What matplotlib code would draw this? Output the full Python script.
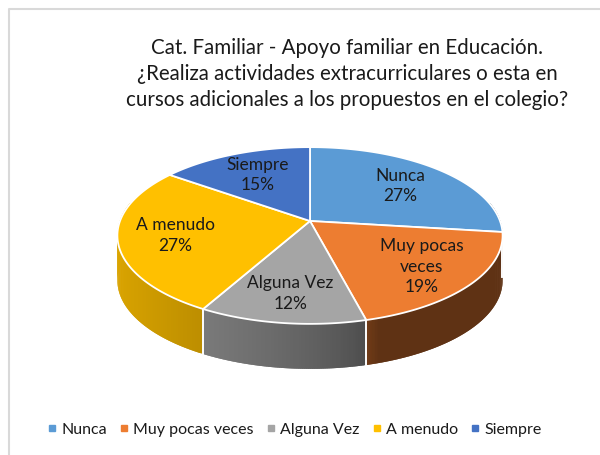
import matplotlib.pyplot as plt
from matplotlib.patches import Polygon
from matplotlib.colors import to_rgb
import numpy as np

# data
title = ('Cat. Familiar - Apoyo familiar en Educación.\n'
         '¿Realiza actividades extracurriculares o esta en\n'
         'cursos adicionales a los propuestos en el colegio?')
categories = ['Nunca', 'Muy pocas veces', 'Alguna Vez', 'A menudo', 'Siempre']
label_text = ['Nunca', 'Muy pocas\nveces', 'Alguna Vez', 'A menudo', 'Siempre']
values = [27, 19, 12, 27, 15]
colors = ['#5b9bd5', '#ed7d31', '#a5a5a5', '#ffc000', '#4472c4']

plt.rcParams['font.family'] = ['Lato', 'DejaVu Sans']

# pie geometry in pixel space (perspective-tilted disc)
cx, cy = 310, 222
rx, ry = 190, 86
k = 0.164
depth = 45


def proj(t, r=1.0):
    s = 1.0 / (1.0 + k * np.sin(t))
    return cx + rx * r * np.cos(t) * s, cy - ry * r * np.sin(t) * s


def side_factor(t):
    v = np.clip((-np.cos(t) + 0.3) / 1.3, 0, 1) ** 0.6
    return 0.4 + 0.46 * v


fig = plt.figure(figsize=(6, 4.56), dpi=100)
ax = fig.add_axes([0, 0, 1, 1])
ax.set_xlim(0, 600)
ax.set_ylim(456, 0)
ax.axis('off')

# chart frame (only top/left visible)
ax.plot([9, 9, 600], [456, 10, 10], color='#d9d9d9', lw=1.5, zorder=1)

total = sum(values)
fracs = np.array(values) / total
bounds = np.pi / 2 - 2 * np.pi * np.concatenate([[0], np.cumsum(fracs)])

# side walls (front half only), shaded in thin overlapping strips
lo, hi = np.radians(-192), np.radians(12)
for i, c in enumerate(colors):
    t0, t1 = bounds[i], bounds[i + 1]
    base = np.array(to_rgb(c))
    for a0, a1 in [(t0, t1), (t0 - 2 * np.pi, t1 - 2 * np.pi)]:
        a_hi, a_lo = min(a0, hi), max(a1, lo)
        if a_hi <= a_lo:
            continue
        ts = np.linspace(a_hi, a_lo, 90)
        for j in range(len(ts) - 1):
            j2 = min(j + 2, len(ts) - 1)
            xa, ya = proj(ts[j])
            xb, yb = proj(ts[j2])
            f = side_factor(0.5 * (ts[j] + ts[j + 1]))
            ax.add_patch(Polygon([(xa, ya - 1), (xb, yb - 1), (xb, yb + depth), (xa, ya + depth)],
                                 closed=True, facecolor=base * f, edgecolor='none',
                                 zorder=2))
        # white seams at slice ends on the wall
        for a in (a0, a1):
            if lo <= a <= hi and np.sin(a) < 0:
                xa, ya = proj(a)
                ax.plot([xa, xa], [ya, ya + depth], color='white', lw=1.2, zorder=3)

# top faces
for i, c in enumerate(colors):
    ts = np.linspace(bounds[i], bounds[i + 1], 80)
    xs, ys = proj(ts)
    pts = [(cx, cy)] + list(zip(xs, ys))
    ax.add_patch(Polygon(pts, closed=True, facecolor=c, edgecolor='white',
                         lw=1.3, joinstyle='round', zorder=4))

# data labels
for i, lab in enumerate(label_text):
    mid = 0.5 * (bounds[i] + bounds[i + 1])
    lx, ly = proj(mid, 0.7)
    ax.text(lx, ly, f'{lab}\n{values[i] / total:.0%}', ha='center', va='center',
            fontsize=12.5, color='#1a1a1a', linespacing=1.35, zorder=5)

ax.text(347, 74, title, ha='center', va='center', fontsize=14.8,
        color='#1a1a1a', linespacing=1.38)

handles = [plt.Line2D([], [], marker='s', ls='', markersize=4.5, color=c) for c in colors]
ax.legend(handles, categories, loc='center', bbox_to_anchor=(295 / 600, 1 - 430 / 456),
          ncol=5, frameon=False, fontsize=11.5, handlelength=0.45, handletextpad=0.35,
          columnspacing=0.85, labelcolor='#1a1a1a')

fig.savefig('out.png', dpi=100)
